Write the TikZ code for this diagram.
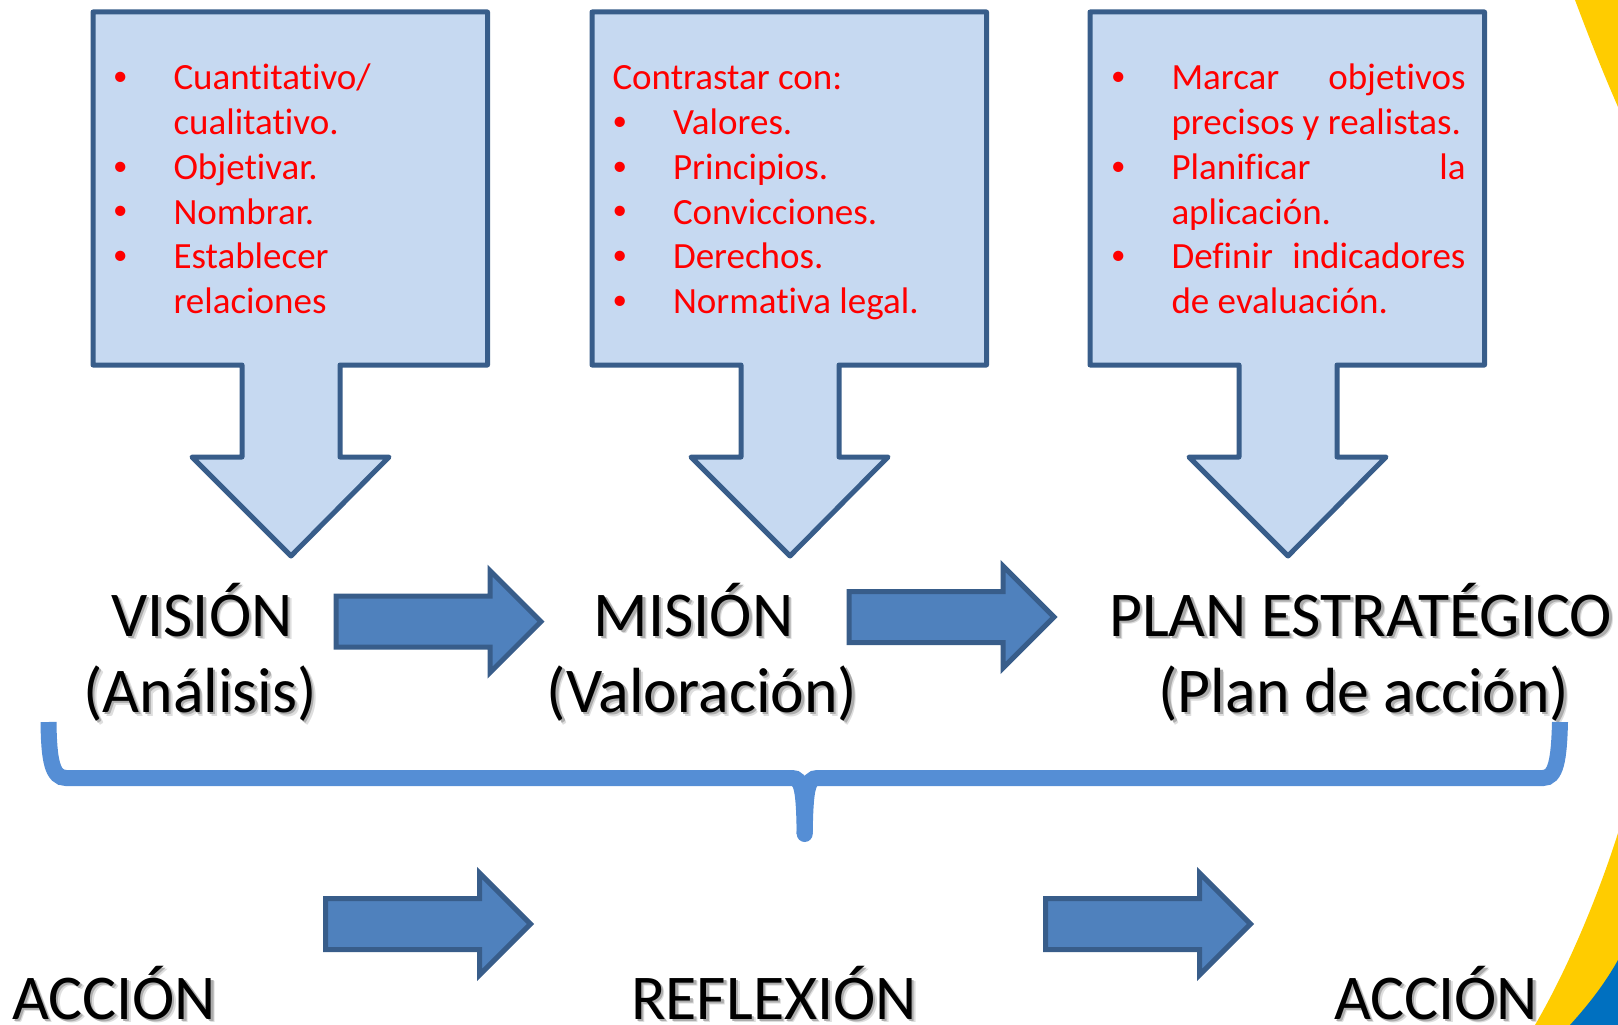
\documentclass[tikz,border=0pt]{standalone}
\usepackage{fontspec}
\setmainfont[Ligatures=NoCommon]{Carlito}
\definecolor{boxfill}{HTML}{C6D9F1}
\definecolor{boxline}{HTML}{385D8A}
\definecolor{arrowfill}{HTML}{4F81BD}
\definecolor{bracecol}{HTML}{558ED5}
\definecolor{sunyellow}{HTML}{FFCC00}
\definecolor{sunblue}{HTML}{0070C0}
\definecolor{listred}{HTML}{FF0000}
\newcommand{\bul}{\makebox[60.5pt][l]{\raisebox{4.1pt}{\fontsize{29pt}{29pt}\selectfont\textbullet}}}
\newcommand{\ind}{\hspace*{60.5pt}}
\newcommand{\shtext}[1]{\rlap{\kern3.8pt\raisebox{-3.8pt}{\textcolor{black!13}{#1}}}\rlap{\kern2.4pt\raisebox{-2.4pt}{\textcolor{black!32}{#1}}}#1}
\newcommand{\calloutbox}[1]{%
  \draw[calloutstyle] (#1-198,12) -- (#1+196.5,12) -- (#1+196.5,365)
    -- (#1+49,365) -- (#1+49,457) -- (#1+98,457) -- (#1,556)
    -- (#1-99,457) -- (#1-49,457) -- (#1-49,365) -- (#1-198,365) -- cycle;}
\newcommand{\blockarrow}[2]{%
  \draw[blockstyle] (#1,#2-25.5) -- (#1+154,#2-25.5) -- (#1+154,#2-51)
    -- (#1+205,#2) -- (#1+154,#2+51) -- (#1+154,#2+25.5) -- (#1,#2+25.5) -- cycle;}
\tikzset{
  calloutstyle/.style={draw=boxline,fill=boxfill,line width=5pt,line join=round},
  blockstyle/.style={draw=boxline,fill=arrowfill,line width=5pt,miter limit=10},
  bracestyle/.style={draw=bracecol,line width=16pt},
  listblock/.style={anchor=north west,inner sep=0pt,outer sep=0pt,text width=#1,align=flush left,
    text=listred,font=\fontsize{37pt}{44.7pt}\selectfont},
  bigtext/.style={anchor=base,inner sep=0pt,text=black,font=\fontsize{63.8pt}{76pt}\selectfont},
}
\begin{document}
\begin{tikzpicture}[x=1pt,y=-1pt]
\useasboundingbox (0,0) rectangle (1618,1025);
% corner decoration
\fill[sunyellow] (1575,0) .. controls (1590,40) and (1604,75) .. (1618,107) -- (1618,0) -- cycle;
\fill[sunyellow] (1535,1025) .. controls (1570,965) and (1600,890) .. (1618,833) -- (1618,1025) -- cycle;
\fill[sunblue] (1570,1025) .. controls (1588,1005) and (1604,985) .. (1618,960) -- (1618,1025) -- cycle;
% callouts
\calloutbox{291}
\calloutbox{790}
\calloutbox{1288}
% lists
\node[listblock=340pt] (listA) at (113,58.7) {\strut\bul Cuantitativo/\\ \ind cualitativo.\\ \bul Objetivar.\\ \bul Nombrar.\\ \bul Establecer\\ \ind relaciones};
\node[listblock=340pt] (listB) at (612.5,58.7) {\strut Contrastar con:\\ \bul Valores.\\ \bul Principios.\\ \bul Convicciones.\\ \bul Derechos.\\ \bul Normativa legal.};
\node[listblock=354.5pt] (listC) at (1111,58.7) {\strut\bul Marcar\hfill objetivos\\ \ind\mbox{precisos y realistas.}\\ \bul Planificar\hfill la\\ \ind aplicación.\\ \bul Definir\hfill indicadores\\ \ind de evaluación.};
% headings
\node[bigtext] (vision) at (202,636) {\shtext{VISIÓN}};
\node[bigtext] (analisis) at (200,712.5) {\shtext{(Análisis)}};
\node[bigtext] (mision) at (693.5,636) {\shtext{MISIÓN}};
\node[bigtext] (valoracion) at (702,712.5) {\shtext{(Valoración)}};
\node[bigtext] (plan) at (1360.5,636) {\shtext{PLAN ESTRATÉGICO}};
\node[bigtext] (planaccion) at (1364,712.5) {\shtext{(Plan de acción)}};
\node[bigtext] (accionA) at (114,1019) {\shtext{ACCIÓN}};
\node[bigtext] (reflexion) at (774,1019) {\shtext{REFLEXIÓN}};
\node[bigtext] (accionB) at (1436,1019) {\shtext{ACCIÓN}};
% block arrows
\blockarrow{336}{621.7}
\blockarrow{849}{617}
\blockarrow{325.5}{924}
\blockarrow{1045.5}{924}
% brace
\draw[bracestyle] (48.5,722) .. controls (49,760) and (52,778) .. (66,778) -- (792,778)
  .. controls (802,778) and (804,790) .. (804.7,834);
\draw[bracestyle] (1560,722) .. controls (1559,760) and (1556,778) .. (1543,778) -- (817.4,778)
  .. controls (807.4,778) and (805.4,790) .. (804.7,834);
\fill[bracecol] (804.7,834) circle (8pt);
\end{tikzpicture}
\end{document}
